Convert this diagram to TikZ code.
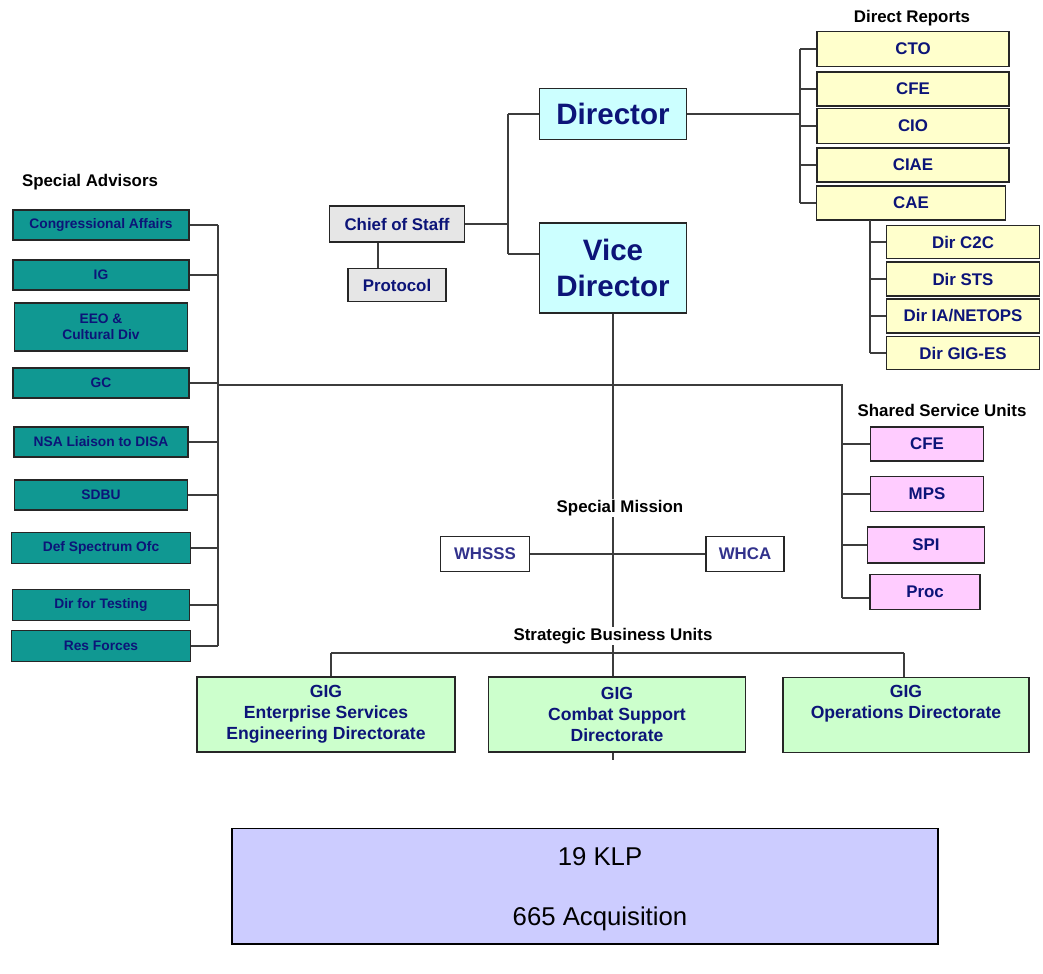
\documentclass[tikz,border=0pt]{standalone}
\usepackage{fontspec}
\setmainfont{Liberation Sans}
\definecolor{teal1}{RGB}{16,152,146}
\definecolor{navy1}{RGB}{12,20,120}
\definecolor{wtxt}{RGB}{50,50,140}
\definecolor{cyan1}{RGB}{204,255,255}
\definecolor{yel1}{RGB}{255,255,204}
\definecolor{pink1}{RGB}{255,204,255}
\definecolor{green1}{RGB}{204,255,204}
\definecolor{grey1}{RGB}{230,230,230}
\definecolor{lav1}{RGB}{204,204,255}
\definecolor{ln}{RGB}{60,60,60}
\begin{document}
\begin{tikzpicture}[x=0.025cm,y=-0.025cm,
  sz/.style 2 args={minimum width=#1*0.025cm, minimum height=#2*0.025cm},
  box/.style={draw=black!85, line width=0.9pt, inner sep=0pt, align=center, text=navy1, font=\bfseries\fontsize{12}{15}\selectfont},
  tealbox/.style={box, fill=teal1, font=\bfseries\fontsize{9.8}{11.5}\selectfont},
  yelbox/.style={box, fill=yel1},
  pinkbox/.style={box, fill=pink1},
  greenbox/.style={box, fill=green1, font=\bfseries\fontsize{12.5}{15}\selectfont},
  greybox/.style={box, fill=grey1},
  cyanbox/.style={box, fill=cyan1, font=\bfseries\fontsize{21}{25.6}\selectfont},
  whitebox/.style={box, fill=white, text=wtxt},
  hdr/.style={inner sep=1pt, font=\bfseries\fontsize{12}{14}\selectfont, text=black},
  conn/.style={draw=ln, line width=0.8pt},
]
\useasboundingbox (0,0) rectangle (1043,973);

% ---------- coordinates for the main spine ----------
\coordinate (vbot) at (613,760);
\coordinate (sbuL) at (331,653);
\coordinate (sbuM) at (613,653);
\coordinate (sbuR) at (904,653);

% ---------- special advisors ----------
\node[hdr] (sahdr) at (90,182) {Special Advisors};
\node[tealbox, sz={176}{30}] (ca) at (101,225) {Congressional Affairs};
\node[tealbox, sz={176}{30}] (ig) at (101,275) {IG};
\node[tealbox, sz={173}{48}] (eeo) at (101,327) {EEO \&\\Cultural Div};
\node[tealbox, sz={176}{30}] (gc) at (101,383) {GC};
\node[tealbox, sz={174}{30}] (nsa) at (101,442) {NSA Liaison to DISA};
\node[tealbox, sz={173}{30}] (sdbu) at (101,495) {SDBU};
\node[tealbox, sz={179}{31}] (dso) at (101,548) {Def Spectrum Ofc};
\node[tealbox, sz={177}{31}] (dft) at (101,605) {Dir for Testing};
\node[tealbox, sz={179}{31}] (res) at (101,646) {Res Forces};

\coordinate (sat) at (218,225);
\coordinate (sab) at (218,646);
\draw[conn] (sat) -- (sab);
\foreach \n in {ca,ig,nsa,sdbu,dso,dft,res}{
  \draw[conn] (\n.east) -- (\n.east -| sat);
}

% ---------- chief of staff ----------
\node[greybox, sz={135}{36}] (cos) at (397,224) {Chief of Staff};
\node[greybox, sz={98}{33}] (prot) at (397,285) {Protocol};
\draw[conn] (cos.south -| 378,0) -- (prot.north -| 378,0);

% ---------- director / vice director ----------
\node[cyanbox, sz={147}{51}] (dir) at (613,114) {Director};
\node[cyanbox, sz={147}{90}] (vice) at (613,268) {Vice\\Director};
\coordinate (cj) at (508,224);
\coordinate (cjt) at (508,114);
\coordinate (cjb) at (508,254);
\draw[conn] (cos.east) -- (cj);
\draw[conn] (cjt) -- (cjb);
\draw[conn] (cjt) -- (dir.west);
\draw[conn] (cjb) -- (cjb -| vice.west);

% vertical from vice director down
\draw[conn] (vice.south) -- (vbot);

% ---------- direct reports ----------
\node[hdr] (drhdr) at (912,18) {Direct Reports};
\node[yelbox, sz={192}{35}] (cto) at (913,49) {CTO};
\node[yelbox, sz={192}{34}] (cfe) at (913,89) {CFE};
\node[yelbox, sz={192}{35}] (cio) at (913,126) {CIO};
\node[yelbox, sz={192}{34}] (ciae) at (913,165) {CIAE};
\node[yelbox, sz={189}{34}] (cae) at (911,203) {CAE};
\coordinate (drt) at (800,49);
\coordinate (drb) at (800,203);
\draw[conn] (dir.east) -- (dir.east -| drt);
\draw[conn] (drt) -- (drb);
\foreach \n in {cto,cfe,cio,ciae,cae}{
  \draw[conn] (\n.west -| drt) -- (\n.west);
}

\node[yelbox, sz={153}{33}] (c2c) at (963,242) {Dir C2C};
\node[yelbox, sz={153}{34}] (sts) at (963,279) {Dir STS};
\node[yelbox, sz={153}{34}] (ia) at (963,316) {Dir IA/NETOPS};
\node[yelbox, sz={153}{33}] (giges) at (963,353) {Dir GIG-ES};
\coordinate (cat) at (870,220);
\coordinate (cab) at (870,353);
\draw[conn] (cat) -- (cab);
\foreach \n in {c2c,sts,ia,giges}{
  \draw[conn] (\n.west -| cat) -- (\n.west);
}

% ---------- shared service units ----------
\coordinate (ssuT) at (842,385);
\coordinate (ssuB) at (842,598);
\draw[conn] (gc.east) -- (gc.east -| sat) -- (218,385) -- (ssuT) -- (ssuB);
\node[hdr, fill=white] (ssuhdr) at (942,410) {Shared Service Units};
\node[pinkbox, sz={113}{34}] (scfe) at (927,444) {CFE};
\node[pinkbox, sz={113}{35}] (mps) at (927,494) {MPS};
\node[pinkbox, sz={117}{36}] (spi) at (926,545) {SPI};
\node[pinkbox, sz={110}{35}] (proc) at (925,592) {Proc};
\foreach \n in {scfe,mps,spi}{
  \draw[conn] (\n.west -| ssuT) -- (\n.west);
}
\draw[conn] (ssuB) -- (ssuB -| proc.west);

% ---------- special mission ----------
\node[hdr, fill=white] (smhdr) at (620,508) {Special Mission};
\node[whitebox, sz={89}{35}] (whsss) at (485,554) {WHSSS};
\node[whitebox, sz={78}{35}] (whca) at (745,554) {WHCA};
\draw[conn] (whsss.east) -- (whca.west);

% ---------- strategic business units ----------
\node[hdr, fill=white] (sbuhdr) at (613,636) {Strategic Business Units};
\draw[conn] (sbuL) -- (sbuR);
\node[greenbox, sz={258}{75}] (g1) at (326,714.5) {GIG\\Enterprise Services\\Engineering Directorate};
\node[greenbox, sz={257}{75}] (g2) at (617,714.5) {GIG\\Combat Support\\Directorate};
\node[greenbox, sz={246}{75}, anchor=north] (g3) at (906,677) {GIG\\Operations Directorate\\\strut};
\draw[conn] (sbuL) -- (g1.north -| sbuL);
\draw[conn] (sbuR) -- (g3.north -| sbuR);

% ---------- bottom box ----------
\node[draw=black, line width=1.4pt, fill=lav1, sz={706}{115}, inner sep=0pt] (klp) at (585,886) {};
\node[font=\fontsize{18.3}{21}\selectfont, inner sep=0pt] (klp1) at (600,857) {19 KLP};
\node[font=\fontsize{18.3}{21}\selectfont, inner sep=0pt] (klp2) at (600,919) {665 Acquisition};
\end{tikzpicture}
\end{document}
